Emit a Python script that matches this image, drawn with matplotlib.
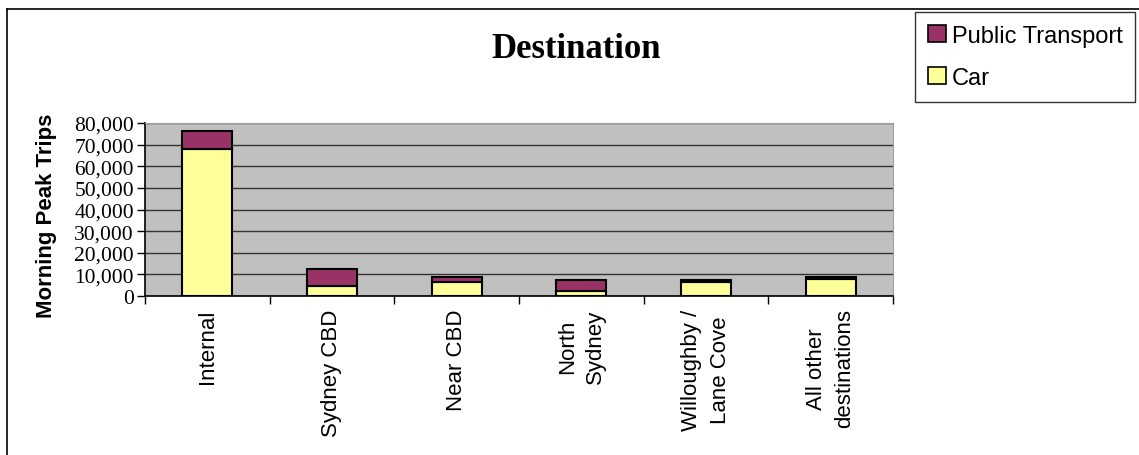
import numpy as np
import matplotlib.pyplot as plt
from matplotlib.lines import Line2D
from matplotlib.patches import Patch

# Data
categories = ['Internal', 'Sydney CBD', 'Near CBD', 'North\nSydney',
              'Willoughby /\nLane Cove', 'All other\ndestinations']
car = [67900, 4400, 6300, 2400, 6300, 7800]
public_transport = [8300, 8300, 2700, 4800, 900, 1200]
y_ticks = [0, 10000, 20000, 30000, 40000, 50000, 60000, 70000, 80000]

PT_COLOR = '#993366'
CAR_COLOR = '#FFFF99'
BG = '#C0C0C0'

W, H = 1139, 456
fig = plt.figure(figsize=(W / 100, H / 100), dpi=100)
fig.patch.set_facecolor('white')

# outer chart frame (left and top edges visible)
fig.add_artist(Line2D([7 / W, 7 / W], [0, 1 - 10 / H], color='black', lw=1.2))
fig.add_artist(Line2D([7 / W, 1], [1 - 10 / H, 1 - 10 / H], color='black', lw=1.2))

ax = fig.add_axes([145 / W, 1 - 297 / H, (893 - 145) / W, (297 - 124) / H])
ax.set_facecolor(BG)

x = np.arange(len(categories))
ax.bar(x, car, width=0.4, color=CAR_COLOR, edgecolor='black', linewidth=1.5,
       label='Car', zorder=3)
ax.bar(x, public_transport, width=0.4, bottom=car, color=PT_COLOR,
       edgecolor='black', linewidth=1.5, label='Public Transport', zorder=3)

ax.set_xlim(-0.5, len(categories) - 0.5)
ax.set_ylim(0, 80000)
ax.set_yticks(y_ticks)
ax.set_yticklabels([f'{v:,}' for v in y_ticks], family='Liberation Serif',
                   fontsize=15.5)
ax.yaxis.grid(True, color='#333333', lw=1.0, zorder=1)
ax.set_axisbelow(True)

# category boundary ticks on x axis, labels at centers
ax.set_xticks(np.arange(len(categories) + 1) - 0.5)
ax.set_xticklabels([])
ax.tick_params(axis='x', direction='out', length=6, width=1, color='black')
ax.tick_params(axis='y', direction='out', length=6, width=1, color='black',
               pad=2)
for xi, lab in zip(x, categories):
    ax.annotate(lab, xy=(xi, 0), xycoords=('data', 'axes fraction'),
                xytext=(0, -9), textcoords='offset points', rotation=90,
                ha='center', va='top', multialignment='center',
                linespacing=1.45, family='Liberation Sans', fontsize=16)

ax.spines['left'].set_color('black')
ax.spines['bottom'].set_color('black')
ax.spines['left'].set_linewidth(1.2)
ax.spines['bottom'].set_linewidth(1.2)
ax.spines['top'].set_color('#A0A0A0')
ax.spines['right'].set_color('#A0A0A0')

ax.set_ylabel('Morning Peak Trips', family='Liberation Sans',
              fontweight='bold', fontsize=16)
ax.yaxis.set_label_coords(-0.117, 0.47)

fig.text(576 / W, 1 - 50 / H, 'Destination', ha='center', va='center',
         family='Liberation Serif', fontweight='bold', fontsize=25)

handles = [Patch(facecolor=PT_COLOR, edgecolor='black', lw=1.2),
           Patch(facecolor=CAR_COLOR, edgecolor='black', lw=1.2)]
leg = fig.legend(handles, ['Public Transport', 'Car'],
                 loc='upper left', bbox_to_anchor=(915 / W, 1 - 13 / H),
                 frameon=True, fancybox=False, edgecolor='black',
                 prop={'family': 'Liberation Sans', 'size': 17},
                 handlelength=0.75, handleheight=0.75, handletextpad=0.25,
                 labelspacing=0.85, borderpad=0.55, borderaxespad=0)
leg.get_frame().set_linewidth(1.0)

fig.savefig('out.png', dpi=100)
